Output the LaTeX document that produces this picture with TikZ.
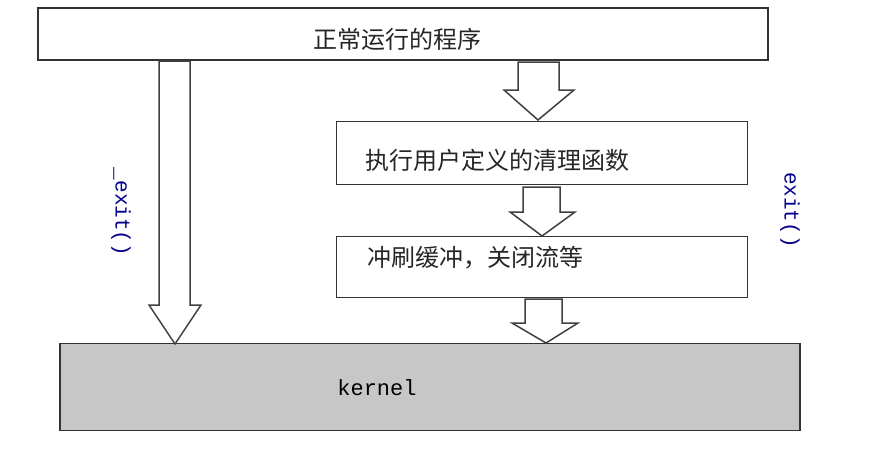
\documentclass[tikz,border=0pt]{standalone}
\usepackage{fontspec}
\newfontfamily\cjk{Noto Sans CJK SC}
\newfontfamily\mono{Liberation Mono}
\begin{document}
\begin{tikzpicture}[x=1pt,y=-1pt,
  box/.style={draw=black!80,line width=1.8pt,inner sep=0pt},
  lbl/.style={font=\cjk\fontsize{24}{24}\selectfont,text=black!85,inner sep=0pt},
  fat/.style={draw=black!75,line width=1.5pt,fill=white,line join=miter}]
\useasboundingbox (0,0) rectangle (882,461);
\node[box,minimum width=730,minimum height=52] (top) at (403,34) {};
\node[lbl] (t1) at (397,39) {正常运行的程序};
\node[box,minimum width=411,minimum height=63] (b2) at (542,153) {};
\node[lbl,anchor=west] (t2) at (365,160) {执行用户定义的清理函数};
\node[box,minimum width=411,minimum height=61] (b3) at (542,267) {};
\node[lbl,anchor=west] (t3) at (367,258) {冲刷缓冲，关闭流等};
\node[box,fill=black!22,minimum width=740,minimum height=87] (k) at (430,387) {};
\node[font=\mono\fontsize{22}{22}\selectfont] (kt) at (377,388) {kernel};
\node[font=\mono\fontsize{21}{21}\selectfont,text=blue!55!black,rotate=-90] (e1) at (121,212) {\_exit()};
\node[font=\mono\fontsize{21}{21}\selectfont,text=blue!55!black,rotate=-90] (e2) at (790,210) {exit()};
% big arrow
\draw[fat] (159,61) -- (190,61) -- (190,305) -- (201,305) -- (175,344) -- (149,305) -- (159,305) -- cycle;
% small arrows
\draw[fat] (518,62) -- (559,62) -- (559,90) -- (574,90) -- (538,120) -- (504,90) -- (518,90) -- cycle;
\draw[fat] (523,187) -- (560,187) -- (560,212) -- (575,212) -- (542,236) -- (510,212) -- (523,212) -- cycle;
\draw[fat] (525,299) -- (562,299) -- (562,323) -- (578,323) -- (546,343) -- (512,323) -- (525,323) -- cycle;
\end{tikzpicture}
\end{document}
